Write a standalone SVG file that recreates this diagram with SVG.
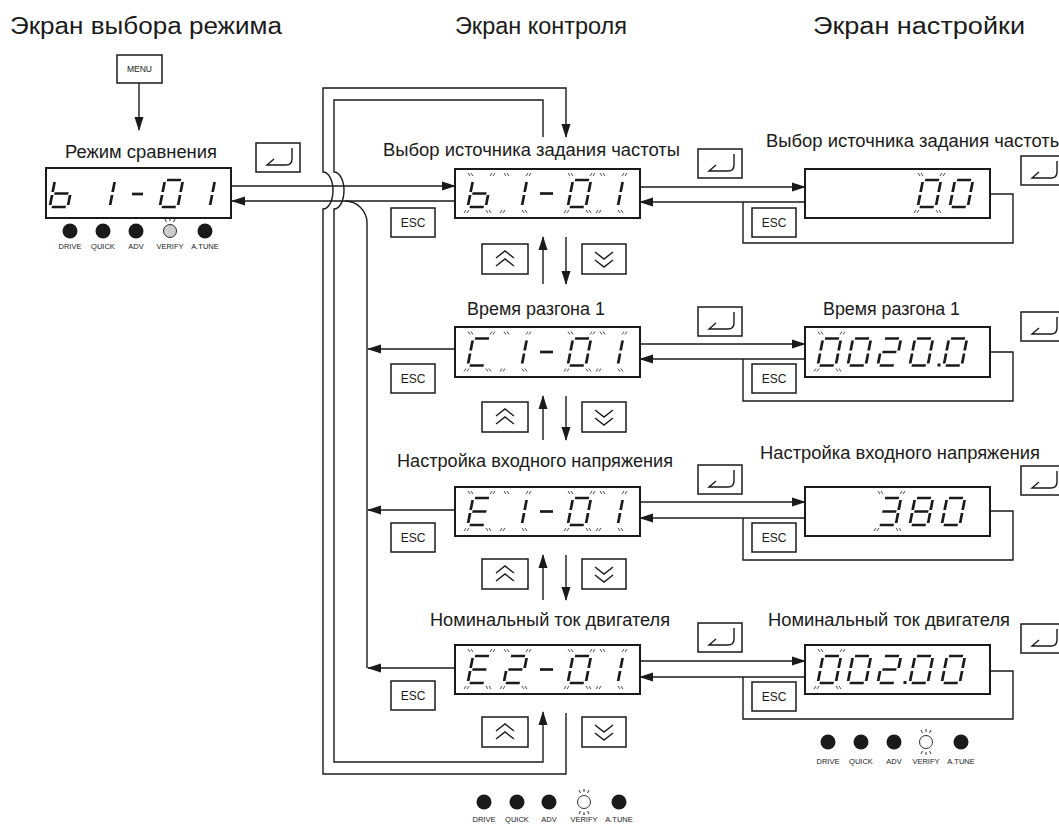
<svg xmlns="http://www.w3.org/2000/svg" width="1059" height="827" viewBox="0 0 1059 827">
<style>
text{font-family:"Liberation Sans",Arial,sans-serif;fill:#1a1a1a}
.t{font-size:23px}
.l{font-size:17.5px}
.esc{font-size:12px;text-anchor:middle}
.led{font-size:7.5px;text-anchor:middle}
.box{fill:#fff;stroke:#1a1a1a;stroke-width:1.5}
.disp{fill:#fff;stroke:#1a1a1a;stroke-width:2}
.w{fill:none;stroke:#1a1a1a;stroke-width:1.4}
.a{marker-end:url(#ah)}
.sym{fill:none;stroke:#1a1a1a;stroke-width:1.4}
.dot{fill:#1a1a1a}
</style>
<defs>
<marker id="ah" markerWidth="14" markerHeight="10" refX="13" refY="5" orient="auto" markerUnits="userSpaceOnUse"><path d="M0,0.5 L14,5 L0,9.5 Z" fill="#1a1a1a"/></marker>
<line id="sa" x1="2" y1="0" x2="16" y2="0"/>
<line id="sb" x1="18" y1="2" x2="18" y2="12"/>
<line id="sc" x1="18" y1="15" x2="18" y2="25"/>
<line id="sd" x1="2" y1="27" x2="16" y2="27"/>
<line id="se" x1="0" y1="15" x2="0" y2="25"/>
<line id="sf" x1="0" y1="2" x2="0" y2="12"/>
<line id="sg" x1="2" y1="13.5" x2="16" y2="13.5"/>
<g id="n0" transform="skewX(-11)" stroke="#1a1a1a" stroke-width="2.7"><use href="#sa"/><use href="#sb"/><use href="#sc"/><use href="#sd"/><use href="#se"/><use href="#sf"/></g>
<g id="n1" transform="skewX(-11)" stroke="#1a1a1a" stroke-width="2.7"><use href="#sb"/><use href="#sc"/></g>
<g id="n2" transform="skewX(-11)" stroke="#1a1a1a" stroke-width="2.7"><use href="#sa"/><use href="#sb"/><use href="#sg"/><use href="#se"/><use href="#sd"/></g>
<g id="n3" transform="skewX(-11)" stroke="#1a1a1a" stroke-width="2.7"><use href="#sa"/><use href="#sb"/><use href="#sg"/><use href="#sc"/><use href="#sd"/></g>
<g id="n8" transform="skewX(-11)" stroke="#1a1a1a" stroke-width="2.7"><use href="#sa"/><use href="#sb"/><use href="#sc"/><use href="#sd"/><use href="#se"/><use href="#sf"/><use href="#sg"/></g>
<g id="nb" transform="skewX(-11)" stroke="#1a1a1a" stroke-width="2.7"><use href="#sf"/><use href="#se"/><use href="#sg"/><use href="#sc"/><use href="#sd"/></g>
<g id="nC" transform="skewX(-11)" stroke="#1a1a1a" stroke-width="2.7"><use href="#sa"/><use href="#sf"/><use href="#se"/><use href="#sd"/></g>
<g id="nE" transform="skewX(-11)" stroke="#1a1a1a" stroke-width="2.7"><use href="#sa"/><use href="#sf"/><use href="#sg"/><use href="#se"/><use href="#sd"/></g>
<g id="bk" stroke="#1a1a1a" stroke-width="0.8">
<line x1="-4" y1="-7" x2="-2" y2="-4"/><line x1="-1" y1="-7" x2="1" y2="-4"/>
<line x1="20" y1="-7" x2="18" y2="-4"/><line x1="23" y1="-7" x2="21" y2="-4"/>
<line x1="-6" y1="30" x2="-8" y2="33"/><line x1="-3" y1="30" x2="-5" y2="33"/>
<line x1="14" y1="30" x2="16" y2="33"/><line x1="17" y1="30" x2="19" y2="33"/>
</g>
<g id="enter"><rect class="box" x="0" y="0" width="44" height="29"/><path class="sym" d="M36 5V16Q36 22 30 22H11L18 16"/></g>
<g id="esc"><rect class="box" x="0" y="0" width="44" height="29"/><text class="esc" x="22" y="19">ESC</text></g>
<g id="up"><rect class="box" x="0" y="0" width="46" height="30"/><path class="sym" d="M14 14L23 7L32 14M14 22L23 15L32 22"/></g>
<g id="down"><rect class="box" x="0" y="0" width="44" height="30"/><path class="sym" d="M13 8L22 15L31 8M13 16L22 23L31 16"/></g>
<g id="vrf" stroke="#1a1a1a" stroke-width="0.9"><circle r="6.5" fill="#fff"/><line x1="-5" y1="-12" x2="-3.5" y2="-9"/><line x1="0" y1="-13" x2="0" y2="-10"/><line x1="5" y1="-12" x2="3.5" y2="-9"/><line x1="-3.5" y1="9" x2="-5" y2="12"/><line x1="0" y1="10" x2="0" y2="13"/><line x1="3.5" y1="9" x2="5" y2="12"/></g>
</defs>

<rect width="1059" height="827" fill="#fff"/>

<g id="titles">
<text class="t" x="10" y="34" textLength="272" lengthAdjust="spacingAndGlyphs">Экран выбора режима</text>
<text class="t" x="455" y="34" textLength="172" lengthAdjust="spacingAndGlyphs">Экран контроля</text>
<text class="t" x="813" y="34" textLength="212" lengthAdjust="spacingAndGlyphs">Экран настройки</text>
</g>

<g id="connectors">
<path class="w a" d="M139 83V130"/>
<path class="w a" d="M231 186H455"/>
<path class="w a" d="M455 201H232"/>
<path class="w" d="M345 201A22 22 0 0 1 367 223V668"/>
<path class="w a" d="M566 713V774H323V209A10 18.5 0 0 0 323 172V88H566V137"/>
<path class="w a" d="M543 137V100H334V172A10 18.5 0 0 1 334 209V762H543V712"/>
<path class="w a" d="M543 284V237"/><path class="w a" d="M566 237V284"/>
<path class="w a" d="M543 440V396"/><path class="w a" d="M566 396V440"/>
<path class="w a" d="M543 600V555"/><path class="w a" d="M566 555V600"/>
<path class="w a" d="M455 349H368"/>
<path class="w a" d="M455 510H368"/>
<path class="w a" d="M455 668H368"/>
<path class="w a" d="M640 187H805"/><path class="w a" d="M805 202H640"/><path class="w" d="M990 194H1013V243H743V202"/>
<path class="w a" d="M640 344H805"/><path class="w a" d="M805 359H640"/><path class="w" d="M990 352H1013V401H743V359"/>
<path class="w a" d="M640 502H805"/><path class="w a" d="M805 518H640"/><path class="w" d="M990 511H1013V560H743V518"/>
<path class="w a" d="M640 661H805"/><path class="w a" d="M805 677H640"/><path class="w" d="M990 671H1013V719H743V677"/>
</g>

<g id="menu"><rect class="box" x="117" y="55" width="45" height="28"/><text x="139.5" y="72" font-size="8.5" text-anchor="middle">MENU</text></g>

<g id="mode-display">
<text class="l" x="65" y="158" textLength="152" lengthAdjust="spacingAndGlyphs">Режим сравнения</text>
<rect class="disp" x="46" y="168" width="185" height="50"/>
<use href="#nb" x="55" y="180"/><use href="#n1" x="97" y="180"/>
<line x1="132" y1="194" x2="143" y2="194" stroke="#1a1a1a" stroke-width="2.7"/>
<use href="#n0" x="165" y="180"/><use href="#n1" x="197" y="180"/>
</g>
<g id="mode-enter"><use href="#enter" x="256" y="143"/></g>
<g id="mode-leds">
<circle class="dot" cx="70" cy="231" r="7.5"/><circle class="dot" cx="103" cy="231" r="7.5"/><circle class="dot" cx="136" cy="231" r="7.5"/>
<g stroke="#1a1a1a" stroke-width="0.9"><circle cx="170" cy="231" r="6.5" fill="#cdcdcd"/><line x1="165" y1="219" x2="166.5" y2="222"/><line x1="170" y1="218" x2="170" y2="221"/><line x1="175" y1="219" x2="173.5" y2="222"/></g>
<circle class="dot" cx="205" cy="231" r="7.5"/>
<text class="led" x="70" y="249">DRIVE</text><text class="led" x="103" y="249">QUICK</text><text class="led" x="136" y="249">ADV</text><text class="led" x="170" y="249">VERIFY</text><text class="led" x="205" y="249">A.TUNE</text>
</g>

<g id="mon-b1-01">
<text class="l" x="383" y="156" textLength="297" lengthAdjust="spacingAndGlyphs">Выбор источника задания частоты</text>
<rect class="disp" x="455" y="169" width="185" height="49"/>
<use href="#nb" x="473" y="180"/><use href="#bk" x="472" y="180"/>
<use href="#n1" x="509" y="180"/><use href="#bk" x="508" y="180"/>
<line x1="540" y1="193.5" x2="553" y2="193.5" stroke="#1a1a1a" stroke-width="2.7"/>
<use href="#n0" x="573" y="180"/><use href="#bk" x="572" y="180"/>
<use href="#n1" x="605" y="180"/><use href="#bk" x="604" y="180"/>
<use href="#esc" x="391" y="208"/><use href="#enter" x="698" y="149"/>
<use href="#up" x="482" y="244"/><use href="#down" x="582" y="244"/>
</g>

<g id="mon-C1-01">
<text class="l" x="467" y="315" textLength="138" lengthAdjust="spacingAndGlyphs">Время разгона 1</text>
<rect class="disp" x="455" y="327" width="185" height="50"/>
<use href="#nC" x="473" y="338.5"/><use href="#bk" x="472" y="338.5"/>
<use href="#n1" x="509" y="338.5"/><use href="#bk" x="508" y="338.5"/>
<line x1="540" y1="352" x2="553" y2="352" stroke="#1a1a1a" stroke-width="2.7"/>
<use href="#n0" x="573" y="338.5"/><use href="#bk" x="572" y="338.5"/>
<use href="#n1" x="605" y="338.5"/><use href="#bk" x="604" y="338.5"/>
<use href="#esc" x="391" y="364"/><use href="#enter" x="698" y="307"/>
<use href="#up" x="482" y="402"/><use href="#down" x="582" y="402"/>
</g>

<g id="mon-E1-01">
<text class="l" x="397" y="467" textLength="276" lengthAdjust="spacingAndGlyphs">Настройка входного напряжения</text>
<rect class="disp" x="455" y="487" width="185" height="49"/>
<use href="#nE" x="473" y="498"/><use href="#bk" x="472" y="498"/>
<use href="#n1" x="509" y="498"/><use href="#bk" x="508" y="498"/>
<line x1="540" y1="511.5" x2="553" y2="511.5" stroke="#1a1a1a" stroke-width="2.7"/>
<use href="#n0" x="573" y="498"/><use href="#bk" x="572" y="498"/>
<use href="#n1" x="605" y="498"/><use href="#bk" x="604" y="498"/>
<use href="#esc" x="391" y="523"/><use href="#enter" x="698" y="465"/>
<use href="#up" x="482" y="559"/><use href="#down" x="582" y="559"/>
</g>

<g id="mon-E2-01">
<text class="l" x="430" y="626" textLength="240" lengthAdjust="spacingAndGlyphs">Номинальный ток двигателя</text>
<rect class="disp" x="455" y="645" width="185" height="49"/>
<use href="#nE" x="473" y="656"/><use href="#bk" x="472" y="656"/>
<use href="#n2" x="509" y="656"/><use href="#bk" x="508" y="656"/>
<line x1="540" y1="669.5" x2="553" y2="669.5" stroke="#1a1a1a" stroke-width="2.7"/>
<use href="#n0" x="573" y="656"/><use href="#bk" x="572" y="656"/>
<use href="#n1" x="605" y="656"/><use href="#bk" x="604" y="656"/>
<use href="#esc" x="391" y="681"/><use href="#enter" x="698" y="623"/>
<use href="#up" x="482" y="717"/><use href="#down" x="582" y="717"/>
</g>

<g id="mon-leds">
<circle class="dot" cx="484" cy="802" r="7.5"/><circle class="dot" cx="517" cy="802" r="7.5"/><circle class="dot" cx="549" cy="802" r="7.5"/>
<use href="#vrf" x="584" y="802"/>
<circle class="dot" cx="619" cy="802" r="7.5"/>
<text class="led" x="484" y="822">DRIVE</text><text class="led" x="517" y="822">QUICK</text><text class="led" x="549" y="822">ADV</text><text class="led" x="584" y="822">VERIFY</text><text class="led" x="619" y="822">A.TUNE</text>
</g>

<g id="set-b1-01">
<text class="l" x="766" y="147" textLength="297" lengthAdjust="spacingAndGlyphs">Выбор источника задания частоты</text>
<rect class="disp" x="805" y="169" width="185" height="49"/>
<use href="#n0" x="923" y="180"/><use href="#bk" x="922" y="180"/>
<use href="#n0" x="955" y="180"/>
<use href="#esc" x="752" y="208"/><use href="#enter" x="1021" y="156"/>
</g>

<g id="set-C1-01">
<text class="l" x="823" y="315" textLength="137" lengthAdjust="spacingAndGlyphs">Время разгона 1</text>
<rect class="disp" x="805" y="327" width="185" height="50"/>
<use href="#n0" x="823" y="338.5"/><use href="#bk" x="822" y="338.5"/>
<use href="#n0" x="853" y="338.5"/><use href="#n2" x="883" y="338.5"/><use href="#n0" x="915" y="338.5"/>
<rect x="937.5" y="363.5" width="3" height="3" fill="#1a1a1a"/>
<use href="#n0" x="949" y="338.5"/>
<use href="#esc" x="752" y="364"/><use href="#enter" x="1021" y="312"/>
</g>

<g id="set-E1-01">
<text class="l" x="760" y="459" textLength="280" lengthAdjust="spacingAndGlyphs">Настройка входного напряжения</text>
<rect class="disp" x="805" y="487" width="185" height="49"/>
<use href="#n3" x="883" y="498"/><use href="#bk" x="882" y="498"/>
<use href="#n8" x="915" y="498"/><use href="#n0" x="947" y="498"/>
<use href="#esc" x="752" y="523"/><use href="#enter" x="1021" y="466"/>
</g>

<g id="set-E2-01">
<text class="l" x="768" y="626" textLength="242" lengthAdjust="spacingAndGlyphs">Номинальный ток двигателя</text>
<rect class="disp" x="805" y="645" width="185" height="49"/>
<use href="#n0" x="823" y="656"/><use href="#bk" x="822" y="656"/>
<use href="#n0" x="853" y="656"/><use href="#n2" x="883" y="656"/>
<rect x="903.5" y="681" width="3" height="3" fill="#1a1a1a"/>
<use href="#n0" x="915" y="656"/><use href="#n0" x="947" y="656"/>
<use href="#esc" x="752" y="682"/><use href="#enter" x="1021" y="624"/>
</g>

<g id="set-leds">
<circle class="dot" cx="828" cy="742" r="7.5"/><circle class="dot" cx="861" cy="742" r="7.5"/><circle class="dot" cx="894" cy="742" r="7.5"/>
<use href="#vrf" x="926" y="742"/>
<circle class="dot" cx="961" cy="742" r="7.5"/>
<text class="led" x="828" y="764">DRIVE</text><text class="led" x="861" y="764">QUICK</text><text class="led" x="894" y="764">ADV</text><text class="led" x="926" y="764">VERIFY</text><text class="led" x="961" y="764">A.TUNE</text>
</g>
</svg>
